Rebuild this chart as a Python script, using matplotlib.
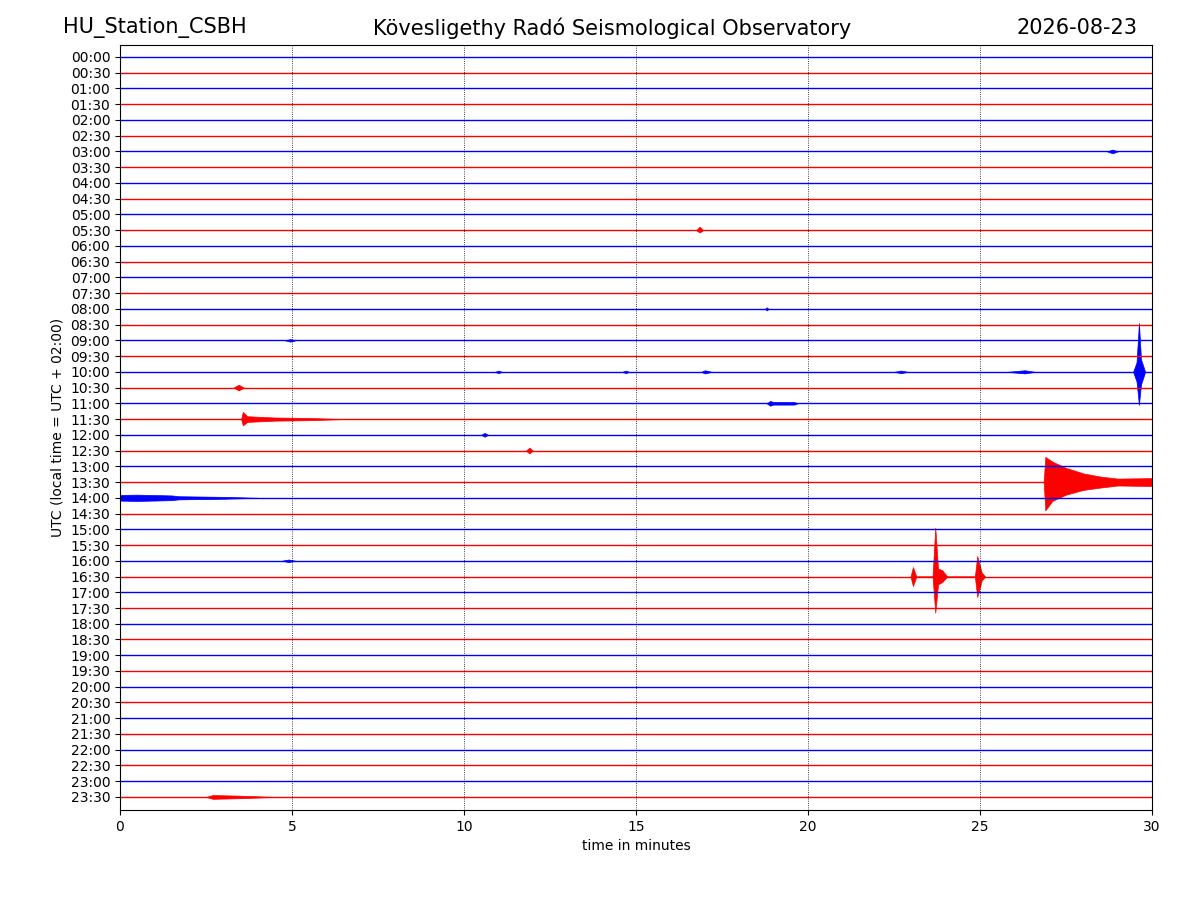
import matplotlib
matplotlib.use("Agg")
import numpy as np
from matplotlib import pyplot as plt

# hour labels, one trace per half hour
rows = ["%02d:%02d" % (h, m) for h in range(24) for m in (0, 30)]
colors = ["blue" if i % 2 == 0 else "red" for i in range(len(rows))]

# events: row label -> list of (minute, up, down)
# amplitudes in units of trace spacing
events = {
    "03:00": [(28.7, 0, 0), (28.85, 0.12, 0.12), (29.0, 0, 0)],
    "05:30": [(16.75, 0, 0), (16.85, 0.22, 0.15), (16.95, 0, 0)],
    "08:00": [(18.75, 0, 0), (18.8, 0.1, 0.1), (18.85, 0, 0)],
    "09:00": [(4.8, 0, 0), (4.95, 0.08, 0.08), (5.1, 0, 0)],
    "10:00": [(10.9, 0, 0), (11.0, 0.08, 0.08), (11.1, 0, 0),
              (14.6, 0, 0), (14.7, 0.08, 0.08), (14.8, 0, 0),
              (16.9, 0, 0), (17.0, 0.1, 0.1), (17.2, 0, 0),
              (22.5, 0, 0), (22.7, 0.08, 0.08), (22.9, 0, 0),
              (25.8, 0, 0), (26.3, 0.1, 0.1), (26.6, 0, 0),
              (29.45, 0, 0), (29.55, 0.6, 0.6), (29.62, 3.1, 2.1),
              (29.68, 0.8, 0.8), (29.8, 0, 0)],
    "10:30": [(3.3, 0, 0), (3.45, 0.18, 0.18), (3.6, 0, 0)],
    "11:00": [(18.8, 0, 0), (18.9, 0.15, 0.15), (19.0, 0.08, 0.08),
              (19.6, 0.08, 0.08), (19.7, 0, 0)],
    "11:30": [(3.52, 0, 0), (3.57, 0.45, 0.4), (3.7, 0.18, 0.18),
              (4.5, 0.1, 0.1), (5.5, 0.07, 0.07), (6.5, 0, 0)],
    "12:00": [(10.5, 0, 0), (10.6, 0.12, 0.12), (10.7, 0, 0)],
    "12:30": [(11.8, 0, 0), (11.9, 0.18, 0.18), (12.0, 0, 0)],
    "13:30": [(26.85, 0, 0), (26.9, 1.6, 1.8), (27.1, 1.3, 1.2),
              (27.5, 0.9, 0.8), (28.0, 0.55, 0.5), (28.5, 0.35, 0.35),
              (29.0, 0.22, 0.22), (30.0, 0.25, 0.25)],
    "14:00": [(0.0, 0.18, 0.18), (0.5, 0.2, 0.2), (1.5, 0.15, 0.15),
              (1.7, 0.1, 0.1), (3.0, 0.06, 0.06), (4.0, 0, 0)],
    "16:00": [(4.7, 0, 0), (4.9, 0.08, 0.08), (5.1, 0, 0)],
    "16:30": [(22.98, 0, 0), (23.05, 0.6, 0.6), (23.15, 0, 0),
              (23.62, 0, 0), (23.7, 3.1, 2.3), (23.78, 0.5, 0.5),
              (23.9, 0.4, 0.35), (24.05, 0, 0),
              (24.85, 0, 0), (24.92, 1.3, 1.3), (25.05, 0.25, 0.25), (25.15, 0, 0)],
    "23:30": [(2.5, 0, 0), (2.7, 0.12, 0.12), (3.5, 0.08, 0.08), (4.5, 0, 0)],
}

station = "HU_Station_CSBH"
observatory = "Kövesligethy Radó Seismological Observatory"
day = "2026-08-23"

fig = plt.figure(figsize=(12, 9), dpi=100)
ax = fig.add_axes([0.1, 0.1, 0.86, 0.85])

for i, (label, c) in enumerate(zip(rows, colors)):
    ax.plot([0, 30], [i, i], color=c, lw=1.0)
    if label in events:
        t = np.array([e[0] for e in events[label]])
        up = np.array([e[1] for e in events[label]])
        down = np.array([e[2] for e in events[label]])
        ax.fill_between(t, i - up, i + down, color=c, lw=0.5)

ax.set_xlim(0, 30)
ax.set_ylim(47.83, -0.76)
ax.set_yticks(range(len(rows)))
ax.set_yticklabels(rows)
ax.set_xticks([0, 5, 10, 15, 20, 25, 30])
for x in [5, 10, 15, 20, 25]:
    ax.axvline(x, color="black", ls=":", lw=0.6)
ax.set_xlabel("time in minutes")
ax.set_ylabel("UTC (local time = UTC + 02:00)")

fig.text(0.0525, 0.969, station, fontsize=15, ha="left", va="center")
fig.text(0.51, 0.969, observatory, fontsize=15, ha="center", va="center")
fig.text(0.9475, 0.969, day, fontsize=15, ha="right", va="center")

plt.savefig("out.png")
